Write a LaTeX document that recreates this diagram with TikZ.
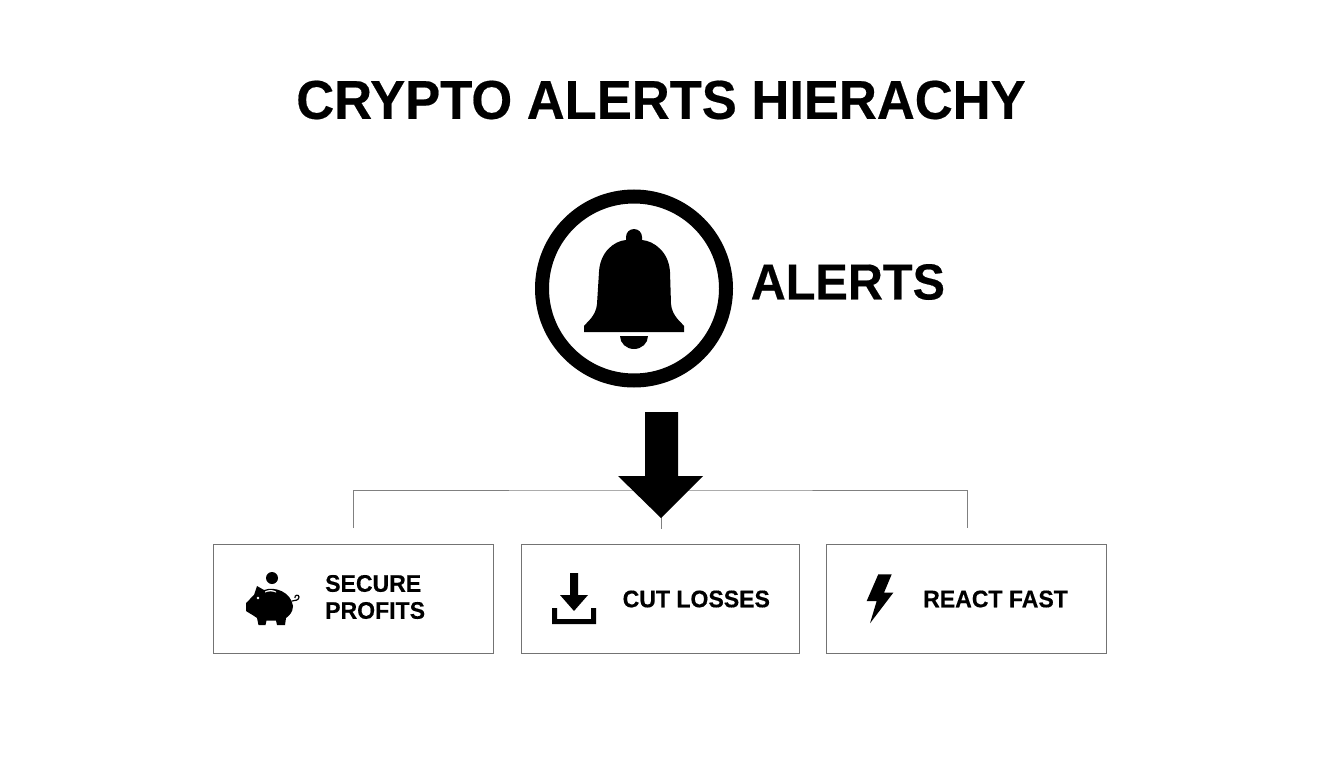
\documentclass[tikz,border=0pt]{standalone}
\usepackage{fontspec}
\setmainfont{Liberation Sans}[BoldFeatures={FakeStretch=0.96,FakeBold=0.35}]
\tikzset{
  x=1pt,y=-1pt,
  ink/.style={fill=black,draw=none},
  paper/.style={fill=white,draw=none},
  tree/.style={draw=black!50,line width=1pt},
  card/.style={draw=black!55,line width=1pt,fill=white,rectangle,minimum height=109pt,inner sep=0pt},
  label/.style={font=\bfseries\fontsize{24}{27}\selectfont,text=black,inner sep=0pt,align=left},
}
\begin{document}
\begin{tikzpicture}
\useasboundingbox (0,0) rectangle (1344,768);
\node[inner sep=0pt,font=\bfseries\fontsize{54.7}{60}\selectfont] (title) at (661,100) {CRYPTO ALERTS HIERACHY};
% alert badge
\node[circle,draw=black,line width=14pt,minimum size=184pt,inner sep=0pt] (badge) at (634,288.5) {};
\path[ink] (584,332) -- (584,326) .. controls (587,322) and (596,316) .. (597,304)
  -- (599,272) .. controls (600,252) and (614,241) .. (626,240) -- (626,237)
  arc[start angle=180,end angle=360,radius=8] -- (642,240)
  .. controls (654,241) and (669,252) .. (670,272) -- (671,304)
  .. controls (672,316) and (681,322) .. (684,326) -- (684,332) -- cycle;
\path[ink] (620,336) -- (648,336) arc[start angle=0,end angle=180,x radius=14,y radius=13] -- cycle;
\node[inner sep=0pt,anchor=west,font=\bfseries\fontsize{50.6}{60}\selectfont] (alerts) at (750.5,282) {ALERTS};
% tree
\coordinate (hub) at (661,490);
\coordinate (dl) at (353,528);
\coordinate (dm) at (661,529);
\coordinate (dr) at (967,528);
\draw[tree] (dl) |- (hub) -| (dr);
\draw[tree] (hub) -- (dm);
% big arrow
\path[ink] (645,412) -- (678,412) -- (678,476) -- (703,476) -- (661,518) -- (618,476) -- (645,476) -- cycle;
% cards
\node[card,minimum width=280pt] (c1) at (353.5,598.5) {};
\node[card,minimum width=278.5pt] (c2) at (660.25,598.5) {};
\node[card,minimum width=280.5pt] (c3) at (966.25,598.5) {};
\node[label,anchor=west] (t1) at (325,597) {SECURE\\PROFITS};
\node[label,anchor=west] (t2) at (622.5,599) {CUT LOSSES};
\node[label,anchor=west] (t3) at (923,599) {REACT FAST};
% piggy
\path[ink] (272,578) circle[radius=6];
\path[ink] (257,586) -- (264,590) .. controls (275,586) and (291,592) .. (293,606)
 .. controls (293,612) and (289,616) .. (286,618) -- (285,625) -- (277,625) -- (276,620.5) -- (266.5,620.5)
 -- (265.5,625) -- (258.5,625) -- (257,618) .. controls (253,615) and (249,613) .. (246,611)
 -- (246,603) .. controls (249,601) and (251,597) .. (254,595) -- cycle;
\path[paper] (265,591.5) .. controls (268,589.5) and (273,589.5) .. (276,591.5) -- (276,592.5) .. controls (273,591) and (268,591) .. (265,592.5) -- cycle;
\path[paper] (258,598) circle[radius=1.3];
\draw[black,line width=1.2pt] (292,601) .. controls (295,601) and (299,600) .. (299,597) .. controls (299,594) and (294,595) .. (295,598);
% download
\path[ink] (570,573) -- (578,573) -- (578,595) -- (588,595) -- (574,611) -- (560,595) -- (570,595) -- cycle;
\path[ink] (552,608) -- (557,608) -- (557,619) -- (591,619) -- (591,608) -- (596,608) -- (596,624) -- (552,624) -- cycle;
% bolt
\path[ink] (878.3,574.3) -- (891.7,574.3) -- (884,592.7) -- (893.3,592.7) -- (870,623.3) -- (876.7,601) -- (866.7,601) -- cycle;
\end{tikzpicture}
\end{document}
